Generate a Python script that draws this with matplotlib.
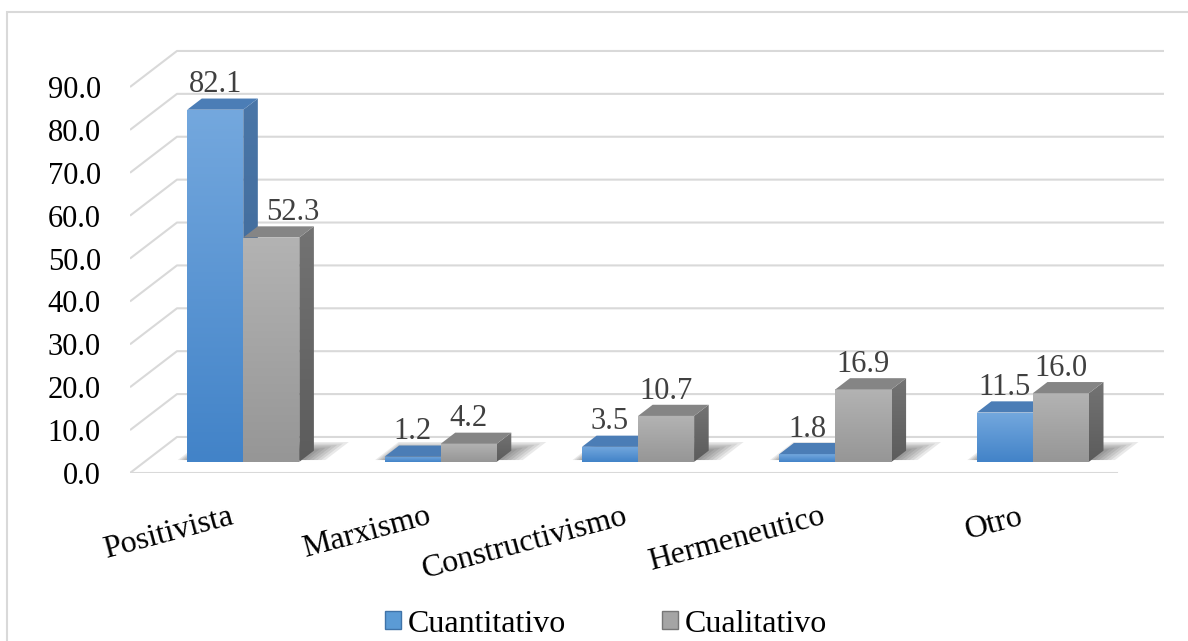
import numpy as np
import matplotlib
matplotlib.use('Agg')
import matplotlib.pyplot as plt
from matplotlib.patches import Polygon, Rectangle, Patch
from matplotlib.colors import LinearSegmentedColormap

# ── data ───────────────────────────────────────────────────────────────────
categorias = ['Positivista', 'Marxismo', 'Constructivismo', 'Hermeneutico', 'Otro']
cuantitativo = [82.1, 1.2, 3.5, 1.8, 11.5]
cualitativo = [52.3, 4.2, 10.7, 16.9, 16.0]
series_names = ['Cuantitativo', 'Cualitativo']
y_ticks = np.arange(0, 91, 10)

# ── look ───────────────────────────────────────────────────────────────────
FONT = 'Liberation Serif'
FS = 22
GRID = '#d9d9d9'
# (front top, front bottom, side top, side bottom, top face)
BLUE = ('#74a8de', '#4283c8', '#4a76a8', '#3a6390', '#4b7db6')
GREY = ('#b3b3b3', '#969696', '#737373', '#5c5c5c', '#858585')

# oblique projection: full floor depth expressed in (category, value) units
DEPTH_X, DEPTH_Y = 0.238, 8.4
BAR_W = 0.284          # one bar, in category units
F0, F1 = 0.31, 0.62    # front / back of the bars as a fraction of floor depth
X_MAX, Y_MAX = 5.3, 100

def proj(x, v, f):
    return (x + f * DEPTH_X, v + f * DEPTH_Y)

plt.rcParams['font.family'] = [FONT, 'DejaVu Serif']

fig = plt.figure(figsize=(11.88, 6.41), dpi=100)
ax = fig.add_axes([130 / 1188, 168 / 641, X_MAX * 197.4 / 1188, Y_MAX * 4.289 / 641])
ax.set_xlim(0, X_MAX)
ax.set_ylim(0, Y_MAX)
for s in ax.spines.values():
    s.set_visible(False)

# chart frame
fig.add_artist(Rectangle((7 / 1188, -0.1), 2, 1.1 - 12 / 641, transform=fig.transFigure,
                         fill=False, ec=GRID, lw=1.5))

# walls: diagonal on the left side wall, horizontal on the back wall
n = len(categorias)
for v in y_ticks:
    ax.plot([0, DEPTH_X, n + DEPTH_X], [v, v + DEPTH_Y, v + DEPTH_Y],
            color=GRID, lw=1.5, zorder=1, solid_capstyle='butt')
ax.plot([0, n], [0, 0], color=GRID, lw=1.5, zorder=1)


def shade(verts, c_top, c_bot, z):
    poly = Polygon(verts, closed=True, fc='none', ec='none', zorder=z)
    ax.add_patch(poly)
    xs, ys = zip(*verts)
    cmap = LinearSegmentedColormap.from_list('g', [c_bot, c_top])
    grad = np.linspace(0, 1, 128)[:, None]
    im = ax.imshow(grad, extent=(min(xs), max(xs), min(ys), max(ys)), origin='lower',
                   cmap=cmap, aspect='auto', zorder=z, interpolation='bilinear')
    im.set_clip_path(poly)


def bar3d(x0, v, pal, z):
    x1 = x0 + BAR_W
    front = [proj(x0, 0, F0), proj(x1, 0, F0), proj(x1, v, F0), proj(x0, v, F0)]
    side = [proj(x1, 0, F0), proj(x1, 0, F1), proj(x1, v, F1), proj(x1, v, F0)]
    top = [proj(x0, v, F0), proj(x1, v, F0), proj(x1, v, F1), proj(x0, v, F1)]
    shade(front, pal[0], pal[1], z)
    shade(side, pal[2], pal[3], z + 0.1)
    ax.add_patch(Polygon(top, closed=True, fc=pal[4], ec='none', zorder=z + 0.2))


# soft floor shadows, then the bars group by group
for i in range(n):
    c = i + 0.5
    for k, d in enumerate(np.linspace(0.02, 0.12, 6)):
        sh = [proj(c - BAR_W - d * 0.5, 0, F0 + 0.05), proj(c + BAR_W + d, 0, F0 + 0.05),
              proj(c + BAR_W + d, 0, F1 + d * 2), proj(c - BAR_W - d * 0.5, 0, F1 + d * 2)]
        ax.add_patch(Polygon(sh, closed=True, fc='#303030', ec='none', alpha=0.1, zorder=2))

label_dx = {(0, 1): 0.11}
for i in range(n):
    c = i + 0.5
    for s, (vals, pal) in enumerate(((cuantitativo, BLUE), (cualitativo, GREY))):
        v = vals[i]
        x0 = c - BAR_W + s * BAR_W
        bar3d(x0, v, pal, 3 + i + s * 0.5)
        lx, ly = proj(x0 + BAR_W / 2, v, F0)
        ax.text(lx + label_dx.get((i, s), 0), ly + 5.8, f'{v:.1f}', ha='center', va='center',
                fontsize=FS, color='#404040', zorder=20)

# axes ticks
ax.set_yticks(y_ticks)
ax.set_yticklabels([f'{t:.1f}' for t in y_ticks], fontsize=FS)
ax.tick_params(axis='y', length=0, pad=21)
ax.set_xticks(np.arange(n) + 0.5)
ax.set_xticklabels(categorias, fontsize=23, rotation=15, ha='right', rotation_mode='anchor')
ax.tick_params(axis='x', length=0, pad=21)

handles = [Patch(fc='#5b9bd5', ec='#3f73a8', lw=1), Patch(fc='#a5a5a5', ec='#777777', lw=1)]
fig.legend(handles, series_names, loc='center', bbox_to_anchor=(606 / 1188, 1 - 624 / 641),
           ncol=2, frameon=False, fontsize=23, handlelength=0.5, handleheight=0.5,
           handletextpad=0.2, columnspacing=3.0, borderpad=0)

fig.savefig('out.png', dpi=100)
